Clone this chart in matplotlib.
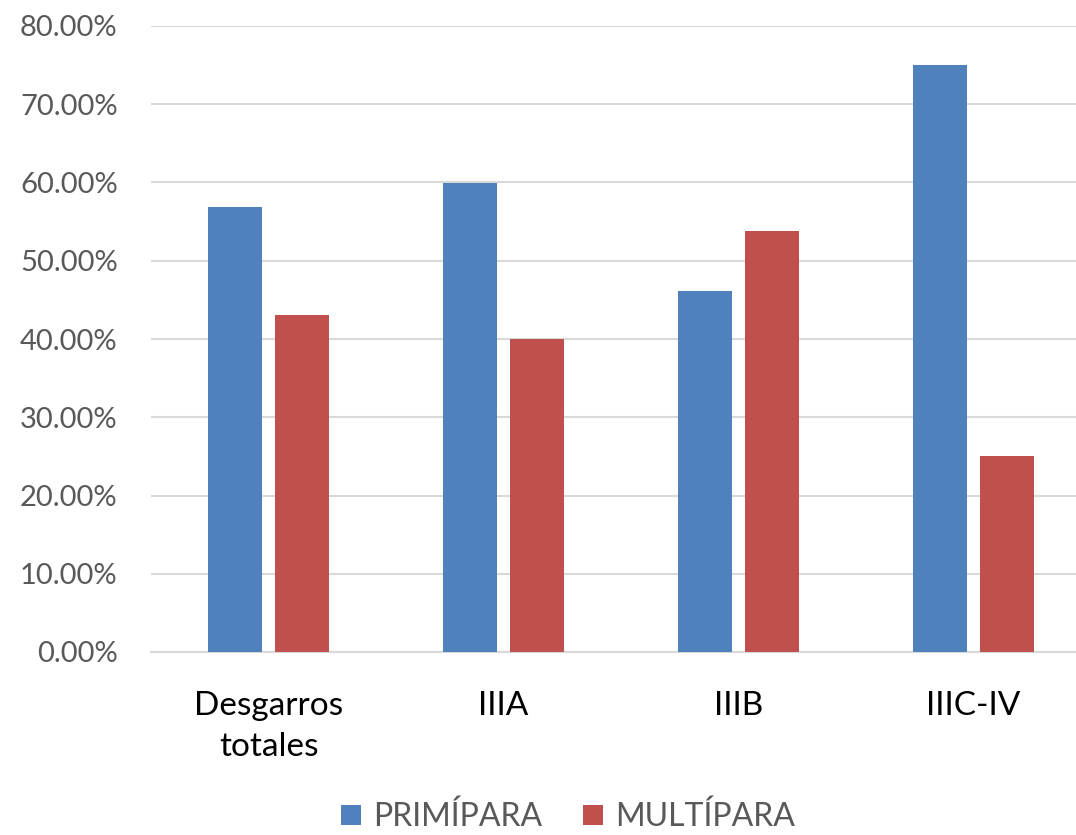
import matplotlib
matplotlib.use("Agg")
import matplotlib.pyplot as plt
from matplotlib.patches import Patch
from matplotlib.ticker import FuncFormatter, MultipleLocator
import numpy as np

categories = ["Desgarros\ntotales", "IIIA", "IIIB", "IIIC-IV"]
primipara = [0.5690, 0.6000, 0.4615, 0.7500]
multipara = [0.4310, 0.4000, 0.5385, 0.2500]
series_names = ["PRIMÍPARA", "MULTÍPARA"]
colors = ["#4F81BD", "#C0504D"]

plt.rcParams['font.family'] = ['Lato', 'DejaVu Sans']

fig = plt.figure(figsize=(10.76, 8.35), dpi=100)
ax = fig.add_axes([151/1076, 1 - 652/835, 940/1076, 626/835])

x = np.arange(len(categories))
w = 0.23
off = 0.142
ax.bar(x - off, primipara, width=w, color=colors[0], zorder=3)
ax.bar(x + off, multipara, width=w, color=colors[1], zorder=3)

ax.set_xlim(-0.5, len(categories) - 0.5)
ax.set_ylim(0, 0.8)
ax.yaxis.set_major_locator(MultipleLocator(0.1))
ax.yaxis.set_major_formatter(FuncFormatter(lambda v, p: f"{v*100:.2f}%"))
ax.grid(axis='y', color='#D9D9D9', linewidth=1.5, zorder=0)
ax.set_axisbelow(True)

for s in ['top', 'right', 'left']:
    ax.spines[s].set_visible(False)
ax.spines['bottom'].set_color('#D9D9D9')
ax.spines['bottom'].set_linewidth(1.5)

ax.set_xticks(x)
ax.set_xticklabels(categories, fontsize=24, color='black', linespacing=1.45)
ax.tick_params(axis='x', length=0, pad=28)
ax.tick_params(axis='y', length=0, pad=24, labelsize=21, labelcolor='#595959')

handles = [Patch(facecolor=c, edgecolor='none') for c in colors]
leg = fig.legend(handles, series_names, loc='center', bbox_to_anchor=(568/1076, 1 - 817/835),
                 ncol=2, frameon=False, fontsize=23, handlelength=0.6, handleheight=0.6,
                 handletextpad=0.38, columnspacing=1.3, borderaxespad=0, borderpad=0)
for t in leg.get_texts():
    t.set_color('#595959')

fig.savefig("out.png", dpi=100)
